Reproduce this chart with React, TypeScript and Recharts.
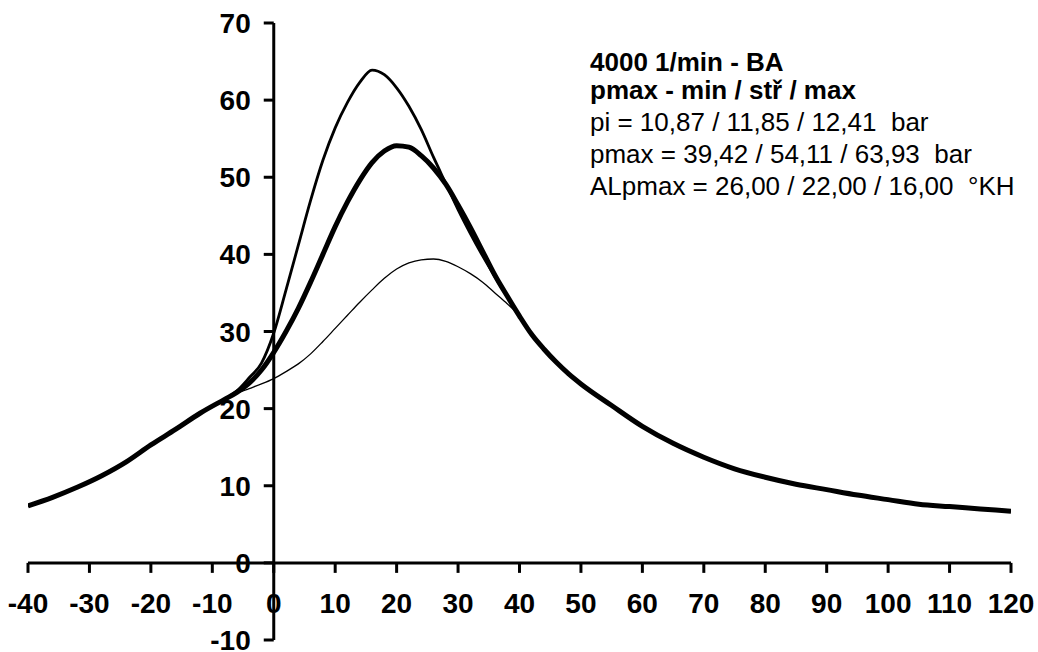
import React from "react";
import { LineChart, Line, XAxis, YAxis, ReferenceLine, ReferenceDot } from "recharts";

// crank angle (°KH)
const angles = [
  -40, -36, -32, -28, -24, -20, -16, -12, -8, -6, -4, -2, 0, 2, 4, 6, 8, 10, 12, 14, 16, 18, 20, 22,
  24, 26, 28, 30, 32, 34, 36, 38, 40, 42, 44, 46, 48, 50, 55, 60, 65, 70, 75, 80, 85, 90, 95, 100,
  105, 110, 115, 120,
];

const pMin = [
  7.4, 8.5, 9.8, 11.3, 13.1, 15.3, 17.3, 19.4, 21.2, 22.0, 22.6, 23.2, 23.9, 24.8, 25.8, 27.1, 28.7,
  30.4, 32.1, 33.8, 35.4, 36.9, 38.1, 38.9, 39.3, 39.4, 39.1, 38.4, 37.5, 36.4, 35.0, 33.6, 32.0,
  29.6, 27.7, 26.0, 24.5, 23.2, 20.4, 17.7, 15.5, 13.7, 12.2, 11.1, 10.2, 9.5, 8.8, 8.2, 7.6, 7.3,
  7.0, 6.7,
];

const pMean = [
  7.4, 8.5, 9.8, 11.3, 13.1, 15.3, 17.3, 19.4, 21.2, 22.1, 23.3, 25.0, 27.3, 30.0, 33.0, 36.4, 40.0,
  43.6, 46.8, 49.6, 51.9, 53.4, 54.1, 53.9, 52.8, 51.2, 49.1, 46.4, 43.5, 40.4, 37.3, 34.6, 32.0,
  29.6, 27.7, 26.0, 24.5, 23.2, 20.4, 17.7, 15.5, 13.7, 12.2, 11.1, 10.2, 9.5, 8.8, 8.2, 7.6, 7.3,
  7.0, 6.7,
];

const pMax = [
  7.4, 8.5, 9.8, 11.3, 13.1, 15.3, 17.3, 19.4, 21.2, 22.3, 24.0, 25.9, 29.8, 35.4, 41.2, 47.0, 52.2,
  56.4, 59.7, 62.3, 63.9, 63.3, 61.6, 59.2, 56.2, 52.6, 49.2, 45.8, 42.7, 39.8, 37.1, 34.5, 32.0,
  29.6, 27.7, 26.0, 24.5, 23.2, 20.4, 17.7, 15.5, 13.7, 12.2, 11.1, 10.2, 9.5, 8.8, 8.2, 7.6, 7.3,
  7.0, 6.7,
];

const xTicks = [-40, -30, -20, -10, 0, 10, 20, 30, 40, 50, 60, 70, 80, 90, 100, 110, 120];
const yTicks = [-10, 0, 10, 20, 30, 40, 50, 60, 70];

const legendBold = ["4000 1/min - BA", "pmax - min / stř / max"];
const legendPlain = [
  "pi = 10,87 / 11,85 / 12,41  bar",
  "pmax = 39,42 / 54,11 / 63,93  bar",
  "ALpmax = 26,00 / 22,00 / 16,00  °KH",
];

const rows = angles.map((a, i) => ({ angle: a, pMin: pMin[i], pMean: pMean[i], pMax: pMax[i] }));

const FONT = "'Liberation Sans', Arial, Helvetica, sans-serif";

const xTickShape = (label: number) => (p: any) => (
  <g>
    <line x1={p.cx} y1={p.cy} x2={p.cx} y2={p.cy + 10} stroke="#000" strokeWidth={3} />
    <text
      x={p.cx}
      y={p.cy + 50}
      textAnchor="middle"
      fontFamily={FONT}
      fontWeight="bold"
      fontSize={28}
      fill="#000"
    >
      {label}
    </text>
  </g>
);

const yTickShape = (label: number) => (p: any) => (
  <g>
    <line x1={p.cx - 10} y1={p.cy} x2={p.cx} y2={p.cy} stroke="#000" strokeWidth={3} />
    <text
      x={p.cx - 23}
      y={p.cy + 10}
      textAnchor="end"
      fontFamily={FONT}
      fontWeight="bold"
      fontSize={28}
      fill="#000"
    >
      {label}
    </text>
  </g>
);

const legendY = [71, 99, 131, 163, 195];

export default function App() {
  return (
    <div
      style={{
        position: "absolute",
        left: 0,
        top: 0,
        width: 1038,
        height: 652,
        background: "#fff",
      }}
    >
      <LineChart
        width={1038}
        height={652}
        data={rows}
        margin={{ top: 23, right: 27, bottom: 12, left: 28 }}
      >
        <XAxis
          type="number"
          dataKey="angle"
          domain={[-40, 120]}
          ticks={xTicks}
          allowDataOverflow
          hide
        />
        <YAxis type="number" domain={[-10, 70]} ticks={yTicks} allowDataOverflow hide />
        {xTicks.map((t) => (
          <ReferenceDot key={"x" + t} x={t} y={0} r={0} shape={xTickShape(t)} />
        ))}
        {yTicks.map((t) => (
          <ReferenceDot key={"y" + t} x={0} y={t} r={0} shape={yTickShape(t)} />
        ))}
        <ReferenceLine y={0} stroke="#000" strokeWidth={3} />
        <ReferenceLine x={0} stroke="#000" strokeWidth={3} />
        <Line
          type="monotone"
          dataKey="pMin"
          stroke="#000"
          strokeWidth={1.3}
          dot={false}
          activeDot={false}
          isAnimationActive={false}
        />
        <Line
          type="monotone"
          dataKey="pMax"
          stroke="#000"
          strokeWidth={2.8}
          dot={false}
          activeDot={false}
          isAnimationActive={false}
        />
        <Line
          type="monotone"
          dataKey="pMean"
          stroke="#000"
          strokeWidth={5}
          dot={false}
          activeDot={false}
          isAnimationActive={false}
        />
      </LineChart>
      <svg
        width={1038}
        height={652}
        style={{ position: "absolute", left: 0, top: 0, pointerEvents: "none" }}
      >
        {legendBold.map((s, i) => (
          <text
            key={"b" + i}
            x={590}
            y={legendY[i]}
            fontFamily={FONT}
            fontWeight="bold"
            fontSize={26}
            fill="#000"
            style={{ whiteSpace: "pre" }}
          >
            {s}
          </text>
        ))}
        {legendPlain.map((s, i) => (
          <text
            key={"p" + i}
            x={590}
            y={legendY[i + 2]}
            fontFamily={FONT}
            fontSize={26}
            fill="#000"
            style={{ whiteSpace: "pre" }}
          >
            {s}
          </text>
        ))}
      </svg>
    </div>
  );
}
